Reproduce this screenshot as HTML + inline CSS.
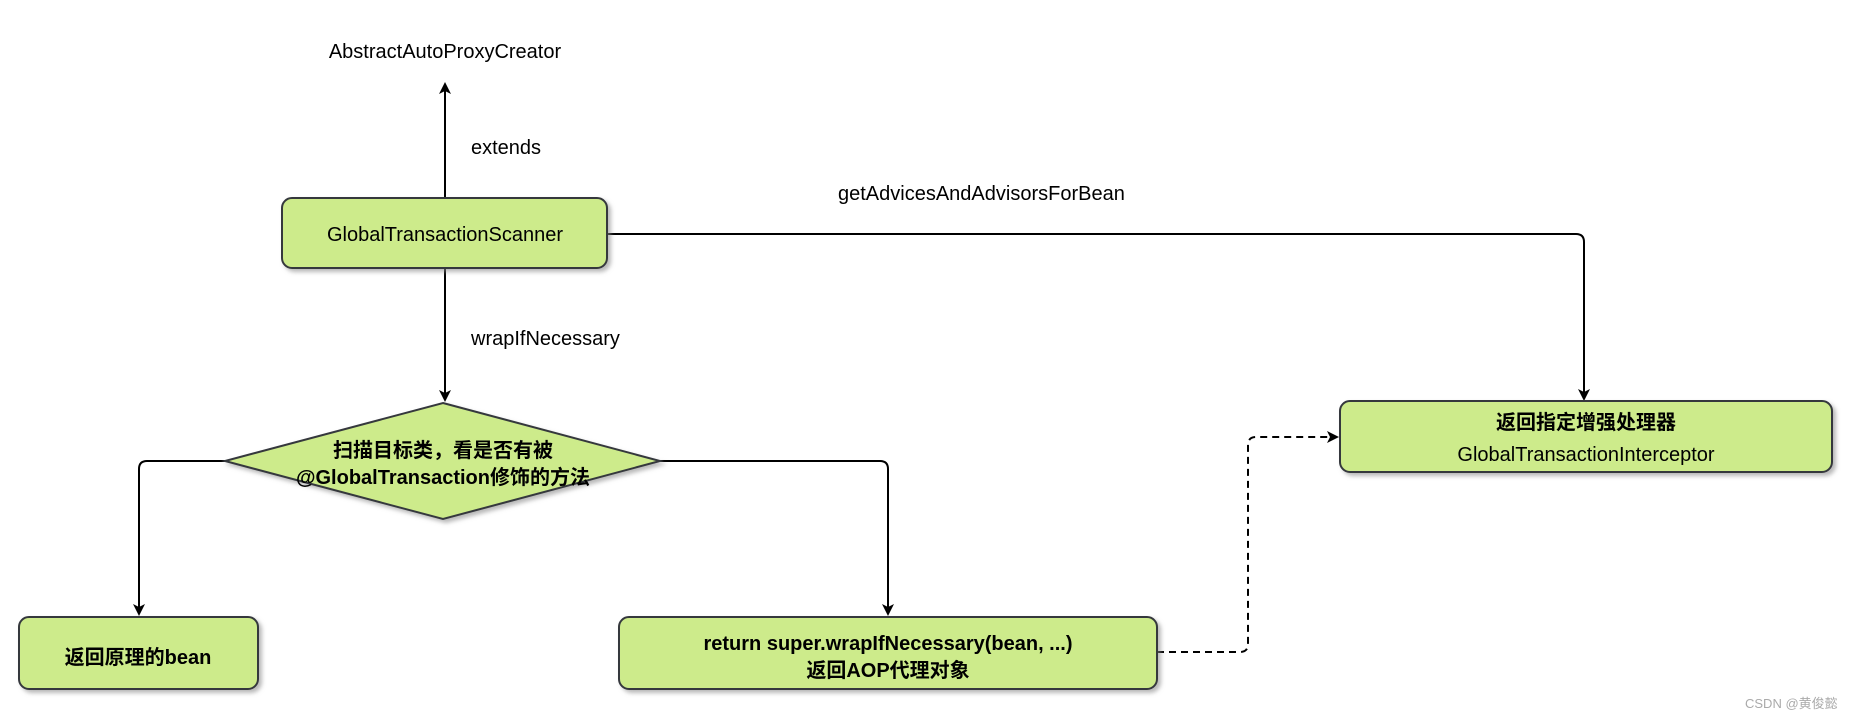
<!DOCTYPE html>
<html><head><meta charset="utf-8"><style>
body{margin:0;background:#fff;}
svg text{font-family:"Liberation Sans","Noto Sans CJK SC",sans-serif;fill:#000;}
</style></head><body>
<svg width="1859" height="720" viewBox="0 0 1859 720" xmlns="http://www.w3.org/2000/svg">
<defs>
<marker id="a" markerWidth="12" markerHeight="12" refX="10" refY="6" orient="auto" markerUnits="userSpaceOnUse">
<path d="M0,0 L12,6 L0,12 L3,6 Z" fill="#000"/></marker>
<filter id="s" x="-10%" y="-10%" width="130%" height="140%"><feDropShadow dx="3" dy="3" stdDeviation="2" flood-color="#888" flood-opacity="0.6"/></filter>
</defs>
<g stroke="#000" stroke-width="2" fill="none">
<path d="M445 198 V84" marker-end="url(#a)"/>
<path d="M445 268 V400" marker-end="url(#a)"/>
<path d="M607 234 H1576 Q1584 234 1584 242 V399" marker-end="url(#a)"/>
<path d="M225 461 H147 Q139 461 139 469 V614" marker-end="url(#a)"/>
<path d="M660 461 H880 Q888 461 888 469 V614" marker-end="url(#a)"/>
<path d="M1157 652 H1240 Q1248 652 1248 644 V445 Q1248 437 1256 437 H1337" stroke-dasharray="7 5" marker-end="url(#a)"/>
</g>
<g fill="#cdeb8b" stroke="#36393d" stroke-width="2" filter="url(#s)">
<rect x="282" y="198" width="325" height="70" rx="10"/>
<rect x="1340" y="401" width="492" height="71" rx="10"/>
<path d="M443 403 L660 461 L443 519 L225 461 Z"/>
<rect x="19" y="617" width="239" height="72" rx="10"/>
<rect x="619" y="617" width="538" height="72" rx="10"/>
</g>
<g font-size="20" text-anchor="middle">
<text x="445" y="58">AbstractAutoProxyCreator</text>
<text x="445" y="241">GlobalTransactionScanner</text>
<text x="1586" y="429" font-weight="bold">返回指定增强处理器</text>
<text x="1586" y="461">GlobalTransactionInterceptor</text>
<text x="443" y="457" font-weight="bold">扫描目标类，看是否有被</text>
<text x="443" y="484" font-weight="bold">@GlobalTransaction修饰的方法</text>
<text x="138" y="664" font-weight="bold">返回原理的bean</text>
<text x="888" y="650" font-weight="bold">return super.wrapIfNecessary(bean, ...)</text>
<text x="888" y="677" font-weight="bold">返回AOP代理对象</text>
</g>
<g font-size="20">
<text x="471" y="154">extends</text>
<text x="471" y="345">wrapIfNecessary</text>
<text x="838" y="200">getAdvicesAndAdvisorsForBean</text>
</g>
<text x="1745" y="708" font-size="13" fill="#aaa" style="fill:#aaa">CSDN @黄俊懿</text>
</svg>
</body></html>
